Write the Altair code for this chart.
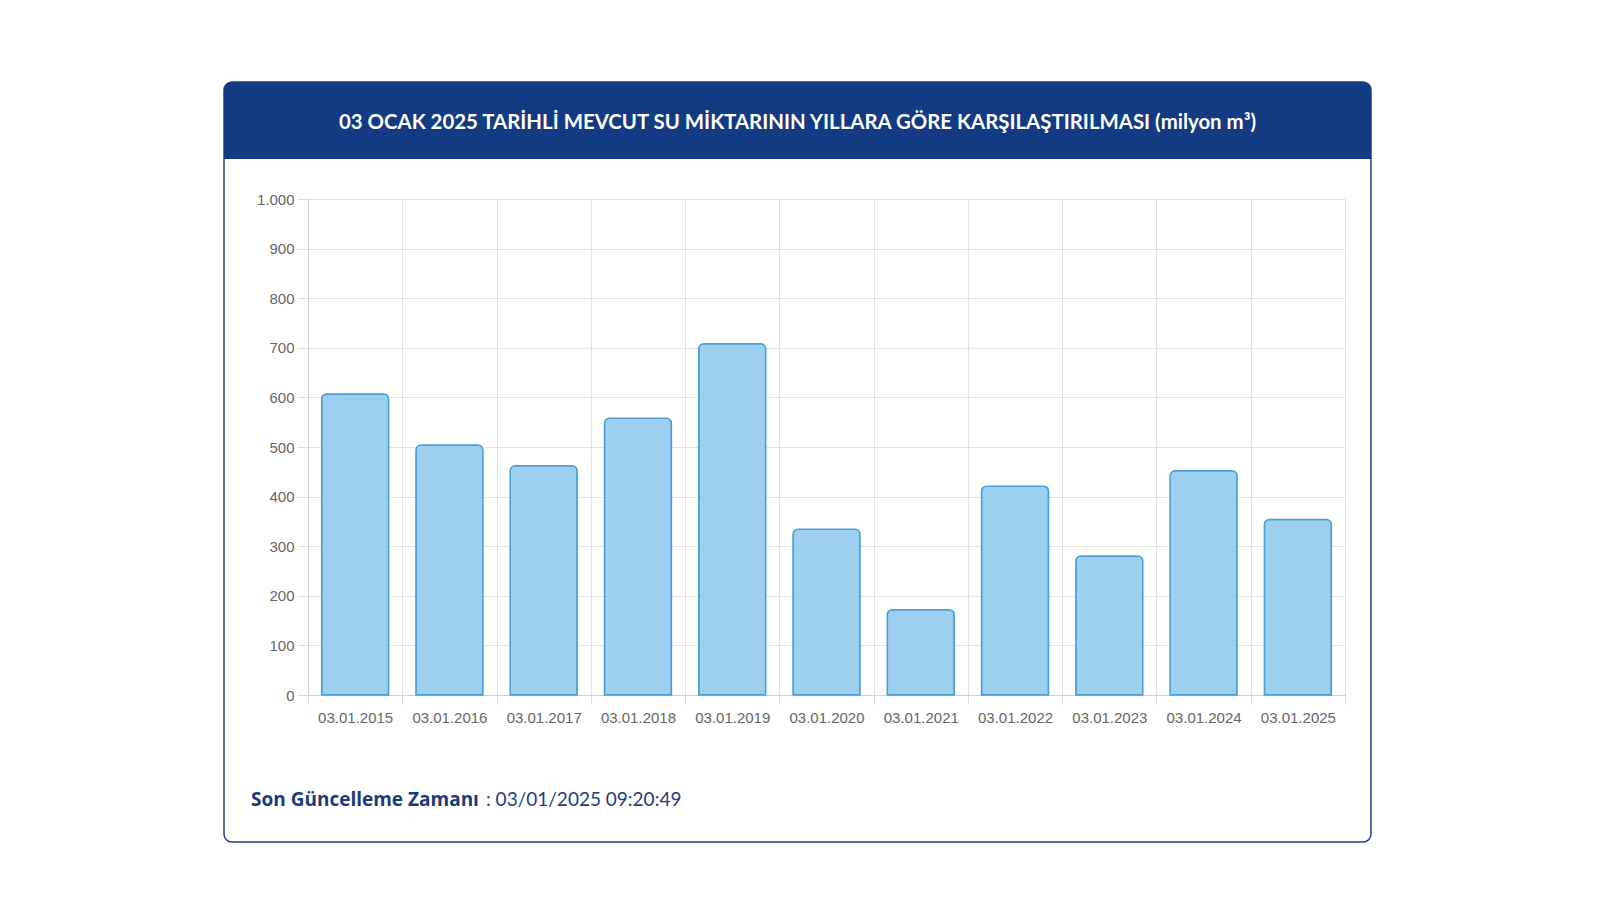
import altair as alt
import pandas as pd

dates = ["03.01.2015", "03.01.2016", "03.01.2017", "03.01.2018", "03.01.2019",
         "03.01.2020", "03.01.2021", "03.01.2022", "03.01.2023", "03.01.2024",
         "03.01.2025"]
values = [607, 504, 462, 558, 708, 334, 172, 421, 280, 452, 354]
y_ticks = [0, 100, 200, 300, 400, 500, 600, 700, 800, 900, 1000]

title_text = "03 OCAK 2025 TARİHLİ MEVCUT SU MİKTARININ YILLARA GÖRE KARŞILAŞTIRILMASI (milyon m³)"
footer_bold = "Son Güncelleme Zamanı"
footer_value = ": 03/01/2025 09:20:49"

df = pd.DataFrame({"date": dates, "value": values})
one = pd.DataFrame({"k": [0]})

W, H = 1037, 496
NAVY = "#123b83"

card = alt.Chart(one).mark_rect(
    fill=None, stroke="#1f4286", strokeWidth=1.5, cornerRadius=8
).encode(x=alt.value(-84), x2=alt.value(1063), y=alt.value(-117), y2=alt.value(643))

header = alt.Chart(one).mark_rect(
    fill=NAVY, cornerRadiusTopLeft=8, cornerRadiusTopRight=8
).encode(x=alt.value(-84), x2=alt.value(1063), y=alt.value(-117), y2=alt.value(-40))

title = alt.Chart(one).mark_text(
    text=title_text, color="white", font="Lato", fontWeight="bold", fontSize=20.4,
    align="center", baseline="middle"
).encode(x=alt.value(489.5), y=alt.value(-76))

foot1 = alt.Chart(one).mark_text(
    text=footer_bold, color="#1b3a78", font="Open Sans", fontWeight="bold", fontSize=19,
    align="left", baseline="middle"
).encode(x=alt.value(-57), y=alt.value(601))

foot2 = alt.Chart(one).mark_text(
    text=footer_value, color="#1e3d7c", font="Lato", fontSize=19,
    align="left", baseline="middle"
).encode(x=alt.value(178), y=alt.value(601))

bars = alt.Chart(df).mark_bar(
    fill="#9dd0ee", stroke="#4a9fd4", strokeWidth=1.5,
    cornerRadiusTopLeft=5, cornerRadiusTopRight=5,
    width=alt.RelativeBandSize(0.71)
).encode(
    x=alt.X("date:N", sort=dates, title=None,
            scale=alt.Scale(paddingInner=0, paddingOuter=0),
            axis=alt.Axis(tickBand="extent", labelAngle=0, grid=True,
                          gridColor="#e3e3e3", tickColor="#dcdcdc", tickSize=9,
                          domainColor="#d0d0d0", labelColor="#666666",
                          labelFont="Liberation Sans", labelFontSize=15,
                          labelPadding=6)),
    y=alt.Y("value:Q", title=None,
            scale=alt.Scale(domain=[0, 1000], nice=False),
            axis=alt.Axis(values=y_ticks, grid=True, gridColor="#e3e3e3",
                          tickColor="#dcdcdc", tickSize=10, domainColor="#d0d0d0",
                          labelColor="#666666", labelFont="Liberation Sans",
                          labelFontSize=15, labelPadding=4,
                          labelExpr="replace(format(datum.value, ','), ',', '.')"))
)

chart = alt.layer(card, header, title, bars, foot1, foot2).properties(
    width=W, height=H,
    autosize=alt.AutoSizeParams(type="none"),
    padding={"left": 300, "top": 191, "right": 220, "bottom": 190},
    background="white"
).configure_view(stroke=None)

chart.save("out.html", embed_options={"renderer": "svg", "actions": False})
